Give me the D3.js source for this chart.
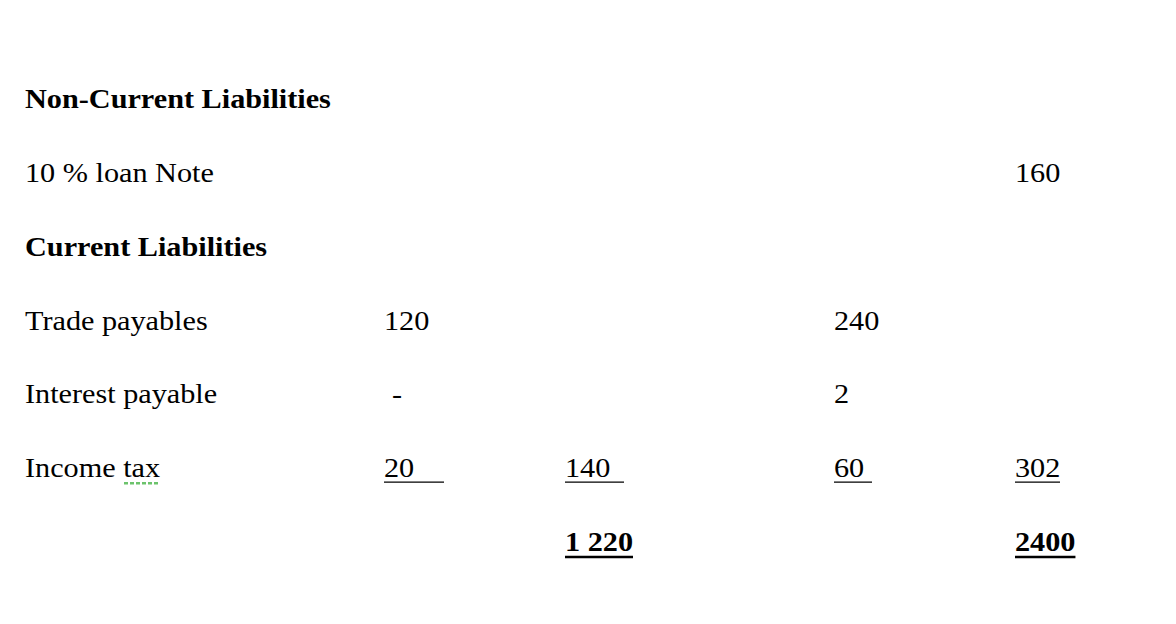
<!DOCTYPE html>
<html><head><meta charset="utf-8">
<script src="https://cdn.jsdelivr.net/npm/d3@7"></script>
<style>body{margin:0;background:#fff}</style>
</head><body>
<svg id="sheet" width="1176" height="624"></svg>
<script>
// rows of the statement: label, bold flag
const labels = ["Non-Current Liabilities", "10 % loan Note", "Current Liabilities",
  "Trade payables", "Interest payable", "Income tax", ""];
const boldRows = [0, 2];
// column values per row (null = empty)
const col1 = [null, null, null, "120", "-", "20", null];
const col2 = [null, null, null, null, null, "140", "1 220"];
const col3 = [null, null, null, "240", "2", "60", null];
const col4 = [null, "160", null, null, null, "302", "2400"];
// underline extents (right end) where the figure is underlined, and bold totals
const underlineTo = { "1-5": 444, "2-5": 624, "3-5": 872, "4-5": 1060 };
const totalRow = 6;

let svg = d3.select("#sheet");
let y = d3.scalePoint().domain(d3.range(labels.length)).range([108, 551]);
let x = d3.scaleOrdinal().domain([0, 1, 2, 3, 4]).range([25, 384, 565, 834, 1015]);
let font = "'Liberation Serif', 'Times New Roman', serif";
let sx = 1.08;

function put(px, py, s, bold) {
  return svg.append("text")
    .attr("transform", "translate(" + px + "," + py + ") scale(" + sx + ",1)")
    .attr("font-family", font).attr("font-size", 28)
    .attr("font-weight", bold ? "bold" : "normal")
    .text(s);
}

labels.forEach(function(l, i) {
  put(x(0), y(i), l, boldRows.includes(i));
});

[col1, col2, col3, col4].forEach(function(col, c) {
  col.forEach(function(v, i) {
    if (v == null) return;
    let t = put(x(c + 1) + (v == "-" ? 8 : 0), y(i), v, i == totalRow);
    let key = (c + 1) + "-" + i;
    if (underlineTo[key]) {
      svg.append("line").attr("x1", x(c + 1)).attr("x2", underlineTo[key])
        .attr("y1", y(i) + 5).attr("y2", y(i) + 5)
        .attr("stroke", "#000").attr("stroke-width", 1.3);
    }
    if (i == totalRow) {
      let w = t.node().getComputedTextLength() * sx;
      svg.append("line").attr("x1", x(c + 1)).attr("x2", x(c + 1) + w)
        .attr("y1", y(i) + 6).attr("y2", y(i) + 6)
        .attr("stroke", "#000").attr("stroke-width", 2.5);
    }
  });
});

// spell-check squiggle under "tax"
svg.append("line").attr("x1", 124).attr("x2", 158)
  .attr("y1", y(5) + 6).attr("y2", y(5) + 6)
  .attr("stroke", "#6cc36c").attr("stroke-width", 2.5).attr("stroke-dasharray", "4,2");
</script>
</body></html>
